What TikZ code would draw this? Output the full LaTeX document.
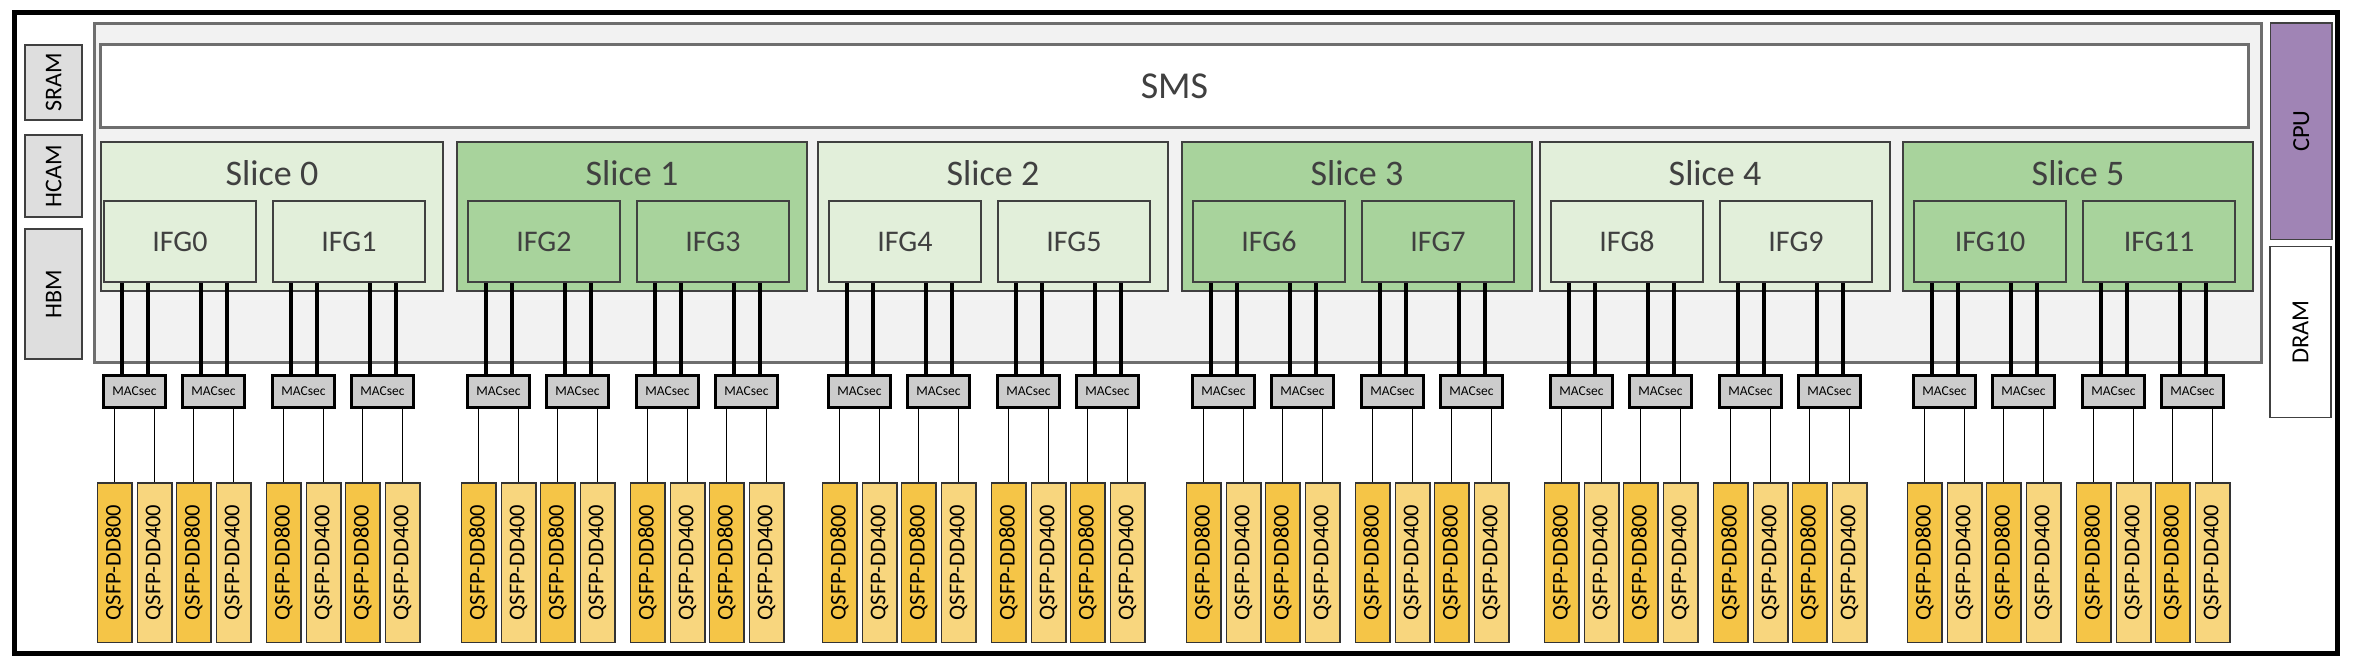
\documentclass[tikz,border=0pt]{standalone}
\usepackage{fontspec}
\setmainfont{Carlito}
\usepackage{graphicx}
\usepackage{xcolor}
\usetikzlibrary{positioning}
\definecolor{chipgray}{HTML}{F2F2F2}
\definecolor{edgegray}{HTML}{6E6E6E}
\definecolor{textgray}{HTML}{404040}
\definecolor{memgray}{HTML}{DEDEDE}
\definecolor{macgray}{HTML}{CCCCCC}
\definecolor{slicelight}{HTML}{E2EFDA}
\definecolor{slicedark}{HTML}{A8D39C}
\definecolor{cpupurple}{HTML}{A084B5}
\definecolor{qsfpdark}{HTML}{F5C547}
\definecolor{qsfplight}{HTML}{F8D67E}
\newcommand{\fsz}[1]{\fontsize{#1}{#1}\selectfont}

\begin{document}
\begin{tikzpicture}[x=1pt, y=-1pt, inner sep=0pt]
  \tikzstyle{mem}=[draw=textgray, line width=2pt, fill=memgray, minimum width=57pt, font=\fsz{24}]
  \tikzstyle{core}=[draw=edgegray, line width=3pt, fill=chipgray]
  \tikzstyle{sms}=[draw=edgegray, line width=2.5pt, fill=white, text=textgray, font=\fsz{38}]
  \tikzstyle{slicebox}=[draw=textgray, line width=2pt, minimum height=149pt]
  \tikzstyle{slicetitle}=[text=textgray, font=\fsz{36}, anchor=base]
  \tikzstyle{ifg}=[draw=textgray, line width=2pt, minimum width=152pt, minimum height=81pt, text=textgray, font=\fsz{30}]
  \tikzstyle{mac}=[draw=black, line width=3.5pt, fill=macgray, minimum width=62pt, minimum height=32pt, font=\fsz{13.5}]
  \tikzstyle{qsfp}=[draw=black!80, line width=1.5pt, minimum width=34.5pt, minimum height=159.5pt, font=\fsz{22.5}]
  \tikzstyle{bus}=[line width=4pt]
  \tikzstyle{wire}=[line width=1.6pt, black]
  \useasboundingbox (0,0) rectangle (2354,662);
  \draw[line width=5pt] (14,12) rectangle (2337.5,653);
  % memories on the left
  \node[mem, minimum height=74.7pt] (sram) at (53.6,82.7) {\rotatebox{90}{SRAM}};
  \node[mem, minimum height=81.7pt, below=13.3pt of sram] (hcam) {\rotatebox{90}{HCAM}};
  \node[mem, minimum height=130pt, below=10pt of hcam] (hbm) {\rotatebox{90}{HBM}};
  % cpu side
  \node[draw=textgray, line width=1.5pt, fill=cpupurple, minimum width=61.2pt, minimum height=216.5pt, font=\fsz{24.5}] (cpu) at (2301.3,131.2) {\rotatebox{90}{CPU}};
  \node[draw=textgray, line width=1.5pt, fill=white, minimum width=61pt, minimum height=171pt, font=\fsz{24.5}] (dram) at (2300.5,332) {\rotatebox{90}{DRAM}};
  % switch core
  \node[core, minimum width=2167.5pt, minimum height=339pt] (chip) at (1177.75,193) {};
  \node[sms, minimum width=2148pt, minimum height=83pt] (smsbox) at (1174.5,86) {SMS};
  \foreach \s/\x/\l in {0/102/100, 1/466/456, 2/827/817, 3/1191/1181, 4/1549/1539, 5/1912/1902} {
    \pgfmathsetmacro{\r}{\x+342}
    \pgfmathsetmacro{\cx}{(\l+\r)/2}
    \pgfmathsetmacro{\w}{\r-\l-2}
    \pgfmathtruncatemacro{\odd}{mod(\s,2)}
    \pgfmathtruncatemacro{\ia}{2*\s}
    \pgfmathtruncatemacro{\ib}{2*\s+1}
    \ifnum\odd=1 \def\fillc{slicedark}\else\def\fillc{slicelight}\fi
    \node[slicebox, fill=\fillc, minimum width=\w pt] (slice\s) at (\cx,216.5) {};
    \node[slicetitle] (title\s) at ([yshift=-44.5pt]slice\s.north) {Slice \s};
    \node[ifg, fill=\fillc] (ifg\ia) at (\x+78,241.5) {IFG\ia};
    \node[ifg, fill=\fillc] (ifg\ib) at (\x+247,241.5) {IFG\ib};
    \foreach \k/\o/\g in {0/32.5/\ia, 1/111.5/\ia, 2/201.5/\ib, 3/280.5/\ib} {
      \node[mac] (mac-\s-\k) at (\x+\o,391.5) {MACsec};
      \node[qsfp, fill=qsfpdark] (q-\s-\k-a) at (\x+\o-20,562.5) {\rotatebox{90}{QSFP-DD800}};
      \node[qsfp, fill=qsfplight] (q-\s-\k-b) at (\x+\o+20,562.5) {\rotatebox{90}{QSFP-DD400}};
      \draw[bus] ([xshift=-13pt]mac-\s-\k.north) -- ([xshift=-13pt]mac-\s-\k.north |- ifg\g.south);
      \draw[bus] ([xshift=13pt]mac-\s-\k.north) -- ([xshift=13pt]mac-\s-\k.north |- ifg\g.south);
      \draw[wire] ([xshift=-20pt]mac-\s-\k.south) -- (q-\s-\k-a.north);
      \draw[wire] ([xshift=20pt]mac-\s-\k.south) -- (q-\s-\k-b.north);
    }
  }
\end{tikzpicture}
\end{document}
